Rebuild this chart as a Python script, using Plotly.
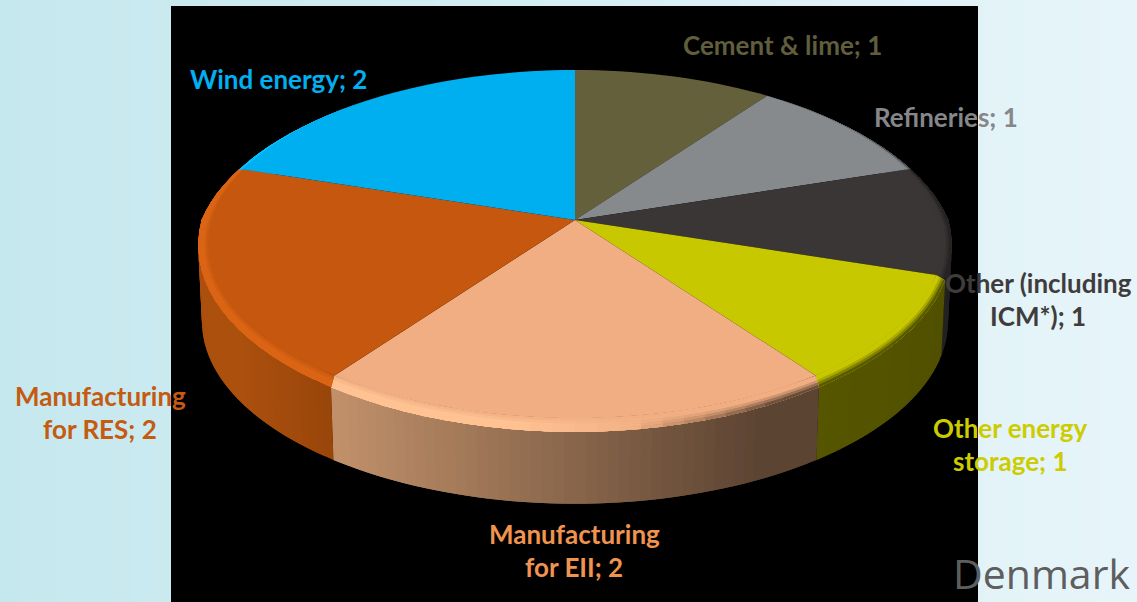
import math
import plotly.graph_objects as go

# ---- data ----
categories = ["Cement & lime", "Refineries", "Other (including<br>ICM*)", "Other energy<br>storage",
              "Manufacturing<br>for EII", "Manufacturing<br>for RES", "Wind energy"]
values = [1, 1, 1, 1, 2, 2, 2]
country = "Denmark"

# ---- styles ----
top_colors = [(100, 96, 60), (134, 138, 141), (58, 54, 54), (200, 200, 0),
              (241, 174, 130), (197, 87, 14), (0, 175, 240)]
side_left = [(70, 68, 42), (70, 72, 74), (36, 33, 33), (86, 86, 0),
             (194, 145, 107), (172, 80, 14), (0, 120, 170)]
side_right = [(70, 68, 42), (70, 72, 74), (36, 33, 33), (80, 80, 0),
              (92, 68, 50), (152, 70, 10), (0, 120, 170)]
label_colors = ["#605E3C", "#85878A", "#403C3C", "#CCCC00", "#F0934F", "#C55A11", "#00B0F0"]
label_pos = [(782, 45), (946, 117), (1038, 299), (1010, 444), (574, 550), (100, 412), (278, 79)]
LINE_GAP = 33

W, H = 1137, 602
CX, CY, A, B, K = 575, 220, 363.5, 170.7, 0.138
RIM_X, RIM_Y = 10, 14
DEPTH, SHRINK_X, SHRINK_Y = 76, 0.99, 0.98


def flat(theta):
    X, Y = math.sin(theta), math.cos(theta)
    s = 1 / (1 + K * Y)
    return CX + A * X * s, CY - B * Y * s


def rim(theta, f=1.0):
    """f=0 is the edge of the flat top, f=1 the outer edge of the bevel."""
    X, Y = math.sin(theta), math.cos(theta)
    x, y = flat(theta)
    dx = RIM_X * math.copysign(abs(X) ** 2, X) * ((1 - Y) ** 2 if Y > 0 else 1)
    dy = RIM_Y * max(0.0, -Y) ** 0.8
    return x + dx * f, y + dy * f


def lower(theta):
    x, y = rim(theta)
    return CX + (x - CX) * SHRINK_X, CY + (y - CY) * SHRINK_Y + DEPTH


def mix(a, b, t):
    return tuple(a[i] + (b[i] - a[i]) * t for i in range(3))


def rgb(c):
    return "rgb(%d,%d,%d)" % tuple(round(max(0, min(255, v))) for v in c)


def clamp(v):
    return max(0.0, min(1.0, v))


def poly(pts, color, name=None):
    xs = [p[0] for p in pts]
    ys = [p[1] for p in pts]
    return go.Scatter(x=xs + xs[:1], y=ys + ys[:1], mode="none", fill="toself", fillcolor=rgb(color),
                      hoverinfo="skip", showlegend=False, name=name)


total = sum(values)
edges = [0.0]
for v in values:
    edges.append(edges[-1] + v / total * 2 * math.pi)

fig = go.Figure()


def arc(a0, a1, step):
    n = max(2, int(math.ceil((a1 - a0) / step)))
    return [a0 + (a1 - a0) * i / n for i in range(n + 1)]


# side wall: strips overlap the next one so that no seams show
for i in range(len(values)):
    ts = arc(edges[i], edges[i + 1], math.radians(1.5))
    xa = rim(edges[i + 1])[0]
    xb = rim(edges[i])[0]
    lo, hi = min(xa, xb), max(xa, xb)
    if "EII" in categories[i]:
        lo, hi = 330, 760
    for k in range(len(ts) - 1):
        t0, t1 = ts[k], ts[min(k + 2, len(ts) - 1)]
        tm = (ts[k] + ts[k + 1]) / 2
        if math.cos(tm) > 0.45:
            continue
        u = clamp((rim(tm)[0] - lo) / (hi - lo)) if hi > lo else 0
        fig.add_trace(poly([rim(t0), rim(t1), lower(t1), lower(t0)], mix(side_left[i], side_right[i], u)))

# flat top
for i, c in enumerate(top_colors):
    ts = arc(edges[i], edges[i + 1], math.radians(2))
    fig.add_trace(poly([(CX, CY)] + [flat(t) for t in ts], c, name=categories[i].replace("<br>", " ")))

# bevelled rim: inner bands first, each reaches the outer edge and is overpainted
BANDS = 5
for i, c in enumerate(top_colors):
    ts = arc(edges[i], edges[i + 1], math.radians(3))
    bright = tuple(min(255, v * 1.08 + 6) for v in c)
    dark = side_right[i]
    for j in range(BANDS):
        f0 = j / BANDS
        fm = (j + 0.5) / BANDS
        for k in range(len(ts) - 1):
            t0, t1 = ts[k], ts[min(k + 2, len(ts) - 1)]
            tm = (ts[k] + ts[k + 1]) / 2
            u = clamp((rim(tm)[0] - 198) / 752)
            light = clamp((0.62 - u) / 0.2)
            shade = clamp((u - 0.58) / 0.2)
            col = mix(c, bright, light * clamp(fm * 2))
            col = mix(col, dark, shade * clamp((fm - 0.35) / 0.6))
            fig.add_trace(poly([rim(t0, f0), rim(t1, f0), rim(t1, 1), rim(t0, 1)], col))

# labels, one annotation per text line
annotations = []
for cat, val, col, (lx, ly) in zip(categories, values, label_colors, label_pos):
    lines = f"{cat}; {val}".split("<br>")
    y0 = ly - LINE_GAP * (len(lines) - 1) / 2
    for n, line in enumerate(lines):
        annotations.append(dict(x=lx, y=y0 + n * LINE_GAP, text=line, showarrow=False, xanchor="center",
                                yanchor="middle", font=dict(family="Lato", size=26, color=col, weight="bold")))
annotations.append(dict(x=1132, y=573, text=country, showarrow=False, xanchor="right", yanchor="middle",
                        font=dict(family="Open Sans", size=41, color="#5E5E5E", weight=400)))

# slide background
shapes = []
BG_L, BG_R = (197, 232, 238), (231, 245, 250)
N_BG = 60
for n in range(N_BG):
    x0 = round(W * n / N_BG)
    x1 = round(W * (n + 1) / N_BG)
    shapes.append(dict(type="rect", x0=x0, x1=x1, y0=0, y1=H, layer="below", line=dict(width=0),
                       fillcolor=rgb(mix(BG_L, BG_R, (n + 0.5) / N_BG))))
shapes.append(dict(type="rect", x0=171, x1=978, y0=6, y1=H, layer="below", line=dict(width=0), fillcolor="#000000"))

fig.update_layout(
    width=W, height=H, margin=dict(l=0, r=0, t=0, b=0), autosize=False,
    paper_bgcolor="#DFF0F5", plot_bgcolor="rgba(0,0,0,0)", showlegend=False,
    xaxis=dict(range=[0, W], visible=False, fixedrange=True),
    yaxis=dict(range=[H, 0], visible=False, fixedrange=True),
    shapes=shapes, annotations=annotations,
)
fig.write_html("out.html", config={"displayModeBar": False}, default_width=W, default_height=H,
               post_script="document.body.style.margin='0';document.documentElement.style.overflow='hidden';")
